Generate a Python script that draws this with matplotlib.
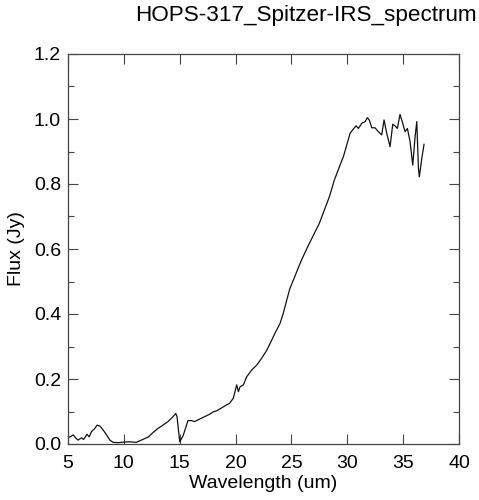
import numpy as np
import matplotlib.pyplot as plt
from matplotlib.ticker import MultipleLocator

# ========== spectrum values ==========
wavelength_um = [
    5.05, 5.18, 5.47, 5.7, 5.9, 6.2, 6.4, 6.7, 6.9, 7.1, 7.4, 7.6, 7.86,
    8.15, 8.45, 8.75, 9.05, 9.5, 10.0, 10.5, 11.1, 11.7, 12.2, 12.6, 13.06,
    13.5, 13.95, 14.4, 14.64, 14.76, 15.0, 15.3, 15.74, 16.04, 16.34, 16.8,
    17.23, 17.7, 18.0, 18.3, 18.7, 19.17, 19.46, 19.8, 20.1, 20.25, 20.4,
    20.7, 21.0, 21.45, 21.9, 22.34, 22.8, 23.24, 23.53, 23.98, 24.27, 24.58,
    24.87, 25.3, 25.6, 25.9, 26.6, 27.05, 27.5, 27.95, 28.4, 28.84, 29.35,
    29.65, 29.95, 30.25, 30.54, 30.78, 31.0, 31.3, 31.6, 31.8, 31.97, 32.19,
    32.48, 32.78, 33.08, 33.29, 33.53, 33.83, 34.07, 34.27, 34.48, 34.72,
    34.96, 35.17, 35.38, 35.62, 35.86, 36.07, 36.22, 36.37, 36.45, 36.67,
    36.87,
]
flux_jy = [
    0.020, 0.022, 0.028, 0.018, 0.012, 0.019, 0.014, 0.030, 0.022, 0.038,
    0.048, 0.058, 0.055, 0.043, 0.028, 0.012, 0.005, 0.004, 0.006, 0.007,
    0.005, 0.014, 0.022, 0.035, 0.048, 0.058, 0.069, 0.084, 0.094, 0.084,
    0.007, 0.025, 0.072, 0.072, 0.069, 0.077, 0.084, 0.092, 0.099, 0.102,
    0.110, 0.120, 0.125, 0.141, 0.182, 0.161, 0.176, 0.182, 0.207, 0.228,
    0.243, 0.264, 0.289, 0.320, 0.341, 0.371, 0.402, 0.443, 0.479, 0.515,
    0.541, 0.566, 0.617, 0.648, 0.679, 0.720, 0.761, 0.812, 0.858, 0.884,
    0.920, 0.956, 0.969, 0.979, 0.971, 0.987, 0.992, 1.004, 0.997, 0.973,
    0.973, 0.961, 0.951, 0.997, 0.956, 0.915, 0.984, 0.979, 0.971, 1.014,
    0.987, 0.961, 0.971, 0.930, 0.858, 0.946, 0.992, 0.848, 0.822, 0.879,
    0.922,
]

x_ticks = [5, 10, 15, 20, 25, 30, 35, 40]
y_ticks = [0.0, 0.2, 0.4, 0.6, 0.8, 1.0, 1.2]

plt.rcParams['font.family'] = ['Liberation Sans', 'DejaVu Sans']

fig = plt.figure(figsize=(4.79, 5.0), dpi=100)
ax = fig.add_axes([68 / 479, 56 / 500, (459 - 68) / 479, (444 - 54) / 500])

ax.plot(wavelength_um, flux_jy, color="#111111", linewidth=0.9)

ax.set_xlim(5, 40)
ax.set_ylim(0, 1.2)
ax.set_xticks(x_ticks)
ax.set_yticks(y_ticks)
ax.set_yticklabels([f"{v:.1f}" for v in y_ticks])
ax.yaxis.set_minor_locator(MultipleLocator(0.1))

ax.tick_params(which="both", direction="in", top=True, right=True,
               labelsize=14, width=0.8, color="#444444")
ax.tick_params(which="major", length=7)
ax.tick_params(which="minor", length=4)
ax.tick_params(axis="x", which="major", pad=8)
ax.tick_params(axis="y", which="major", pad=5)
for spine in ax.spines.values():
    spine.set_linewidth(0.9)
    spine.set_color("#444444")

ax.set_xlabel("Wavelength (um)", fontsize=14, labelpad=2)
ax.set_ylabel("Flux (Jy)", fontsize=14, labelpad=6)

# title sits off-centre, flush with the right edge as in the reference
fig.text(477 / 479, 1 - 16 / 500, "HOPS-317_Spitzer-IRS_spectrum",
         ha="right", va="center", fontsize=16.2)

fig.savefig("out.png", dpi=100)
